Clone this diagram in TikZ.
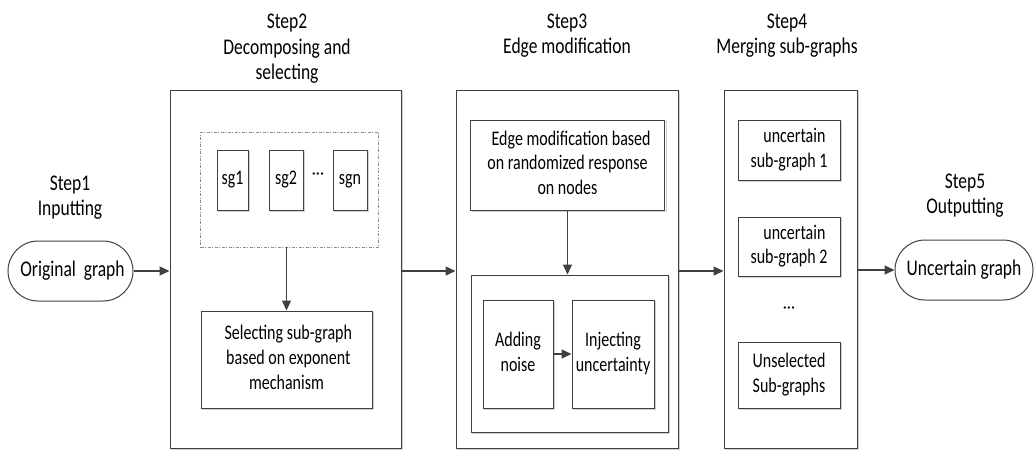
\documentclass[tikz,border=0pt]{standalone}
\usepackage{fontspec}
\setmainfont{Carlito}
\usetikzlibrary{arrows.meta,shapes.misc,shadows}
\definecolor{ln}{HTML}{404040}
\newcommand{\tx}[1]{\scalebox{1}[1.3]{\fontsize{16}{19}\selectfont\begin{tabular}{@{}c@{}}#1\end{tabular}}}
\newcommand{\txl}[1]{\scalebox{1}[1.28]{\fontsize{17.5}{19.8}\selectfont\begin{tabular}{@{}c@{}}#1\end{tabular}}}
\begin{document}
\begin{tikzpicture}[x=1pt,y=-1pt,
  font=\fontsize{16}{19}\selectfont,
  every node/.style={inner sep=0pt, align=center, text=black},
  box/.style={draw=ln, line width=1pt, fill=white,
    general shadow={shadow xshift=1.5pt, shadow yshift=-1.5pt, draw=black!18, line width=0.8pt, fill=none}},
  pill/.style={draw=ln, line width=1pt, rounded rectangle, fill=white},
  arr/.style={draw=ln, line width=1.3pt, -{Triangle[length=10pt,width=9pt]}}
]
\useasboundingbox (0,0) rectangle (1035,451);
% Step1
\node (s1lab) at (70,198) {\txl{Step1\\Inputting}};
\node[pill, minimum width=125, minimum height=60] (orig) at (70.5,271) {\txl{\ Original\ \ graph}};
% Step2
\node[box, minimum width=231, minimum height=358] (b2) at (285.5,269) {};
\node (s2lab) at (287,49) {\txl{Step2\\Decomposing and\\selecting}};
\node[draw=black!45, line width=0.7pt, dash pattern=on 3pt off 1.5pt on 1pt off 1.5pt, minimum width=178, minimum height=115] (dash) at (289.5,189.5) {};
\node[box, minimum width=31, minimum height=60] (sg1) at (232.5,180) {\tx{sg1}};
\node[box, minimum width=34, minimum height=60] (sg2) at (286,180) {\tx{sg2}};
\node (dots2) at (318,176) {\textperiodcentered\textperiodcentered\textperiodcentered};
\node[box, minimum width=34, minimum height=60] (sgn) at (350,180) {\tx{sgn}};
\node[box, minimum width=171, minimum height=97] (sel) at (286.5,359.5) {\tx{\ Selecting sub-graph\\\ based on exponent\\mechanism}};
% Step3
\node[box, minimum width=222, minimum height=358] (b3) at (567,269) {};
\node (s3lab) at (567,36) {\txl{Step3\\Edge modification}};
\node[box, minimum width=194, minimum height=90] (edgemod) at (567.5,165) {\tx{\ \ Edge modification based\\on randomized response\\on nodes}};
\node[box, minimum width=197, minimum height=157] (inner) at (569.5,353.5) {};
\node[box, minimum width=70, minimum height=108] (noise) at (518,354) {\tx{Adding\\noise}};
\node[box, minimum width=82, minimum height=108] (inject) at (613,354) {\raisebox{4pt}{\tx{Injecting\\uncertainty}}};
% Step4
\node[box, minimum width=133, minimum height=358] (b4) at (790.5,269) {};
\node (s4lab) at (787,36) {\txl{Step4\\Merging sub-graphs}};
\node[box, minimum width=102, minimum height=60] (u1) at (789,150) {\tx{\ \ \ uncertain\\sub-graph 1}};
\node[box, minimum width=102, minimum height=59] (u2) at (789,246.5) {\tx{\ \ \ uncertain\\sub-graph 2}};
\node (dots4) at (789,310) {\textperiodcentered\textperiodcentered\textperiodcentered};
\node[box, minimum width=102, minimum height=66] (unsel) at (789,375) {\tx{Unselected\\Sub-graphs}};
% Step5
\node (s5lab) at (965,196) {\txl{Step5\\Outputting}};
\node[pill, minimum width=138, minimum height=60] (out) at (964,270) {\txl{Uncertain graph}};
% connectors
\draw[arr] (orig.east) -- (b2.west |- orig.east);
\draw[arr] (b2.east |- orig.east) -- (b3.west |- orig.east);
\draw[arr] (b3.east |- orig.east) -- (b4.west |- orig.east);
\draw[arr] (b4.east |- out.west) -- (out.west);
\draw[arr] (sel.north |- dash.south) -- (sel.north);
\draw[arr] (edgemod.south) -- (edgemod.south |- inner.north);
\draw[arr] (noise.east) -- (inject.west);
\end{tikzpicture}
\end{document}
